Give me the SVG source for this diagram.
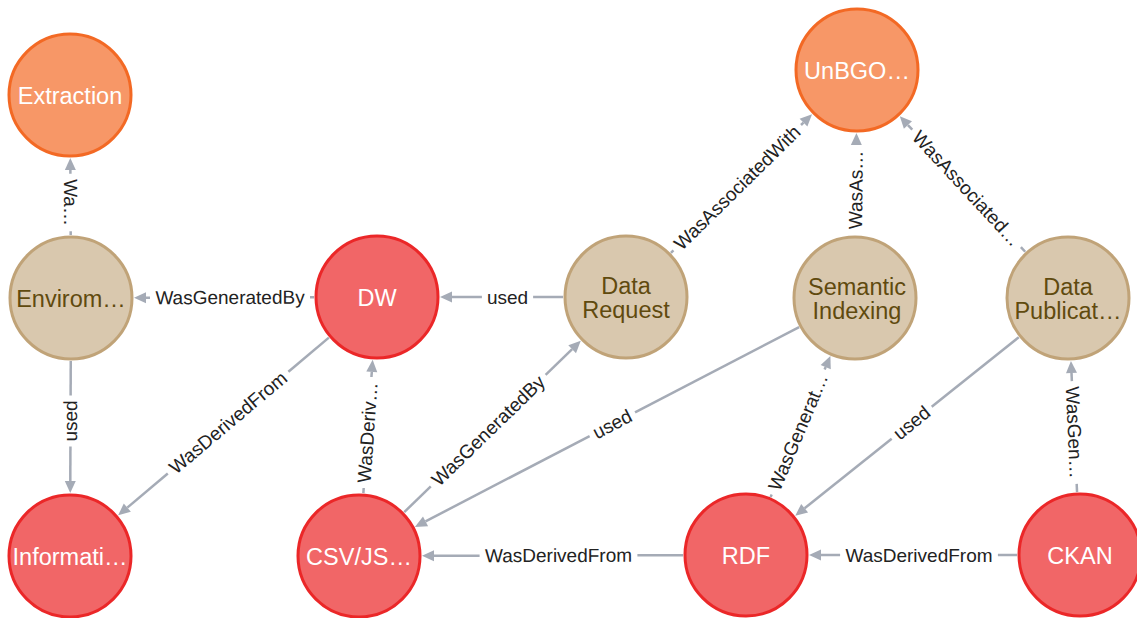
<svg xmlns="http://www.w3.org/2000/svg" width="1137" height="618" viewBox="0 0 1137 618">
  <style>
    .orange circle { fill: #F79767; stroke: #F36924; stroke-width: 3; }
    .red circle { fill: #F16667; stroke: #EB2728; stroke-width: 3; }
    .tan circle { fill: #D9C8AE; stroke: #C0A378; stroke-width: 3; }
    .node text { font-family: "Liberation Sans", Arial, sans-serif; font-size: 23.5px; text-anchor: middle; dominant-baseline: central; }
    .orange text, .red text { fill: #FFFFFF; }
    .tan text { fill: #604A0E; }
    .rel line { stroke: #A5ABB6; stroke-width: 2.5; }
    .rel path { fill: #A5ABB6; }
    .rel text { font-family: "Liberation Sans", Arial, sans-serif; font-size: 19px; fill: #222222; text-anchor: middle; dominant-baseline: central; }
  </style>
  <rect width="1137" height="618" fill="#FFFFFF"/>

  <!-- relationships: each drawn in its own frame (origin at midpoint, x along the edge) -->
  <g id="relationships">
    <!-- Envirom -> Extraction -->
    <g class="rel" transform="translate(70.5,196.5) rotate(89.7)">
      <line x1="-26.5" y1="0" x2="-22.75" y2="0"/><line x1="34.75" y1="0" x2="38.5" y2="0"/>
      <path d="M-38.5,0 L-26.5,-5.5 L-26.5,5.5 Z"/>
      <text x="6" y="0">Wa…</text>
    </g>
    <!-- DW -> Envirom -->
    <g class="rel" transform="translate(224,297.5) rotate(-0.19)">
      <line x1="-78" y1="0" x2="-74" y2="0"/><line x1="86" y1="0" x2="90" y2="0"/>
      <path d="M-90,0 L-78,-5.5 L-78,5.5 Z"/>
      <text x="6" y="0">WasGeneratedBy</text>
    </g>
    <!-- Envirom -> Informati -->
    <g class="rel" transform="translate(70.5,427) rotate(-89.78)">
      <line x1="-54" y1="0" x2="-19.6" y2="0"/><line x1="31.6" y1="0" x2="66" y2="0"/>
      <path d="M-66,0 L-54,-5.5 L-54,5.5 Z"/>
      <text x="6" y="0">used</text>
    </g>
    <!-- DW -> Informati -->
    <g class="rel" transform="translate(223.5,426.5) rotate(-40.15)">
      <line x1="-125.83" y1="0" x2="-72.9" y2="0"/><line x1="84.9" y1="0" x2="137.83" y2="0"/>
      <path d="M-137.83,0 L-125.83,-5.5 L-125.83,5.5 Z"/>
      <text x="6" y="0">WasDerivedFrom</text>
    </g>
    <!-- Data Request -> DW -->
    <g class="rel" transform="translate(501.5,297) rotate(0)">
      <line x1="-49.5" y1="0" x2="-19.6" y2="0"/><line x1="31.6" y1="0" x2="61.5" y2="0"/>
      <path d="M-61.5,0 L-49.5,-5.5 L-49.5,5.5 Z"/>
      <text x="6" y="0">used</text>
    </g>
    <!-- Data Request -> UnBGO -->
    <g class="rel" transform="translate(741.5,183.5) rotate(-44.5)">
      <line x1="-98.93" y1="0" x2="-95.45" y2="0"/><line x1="83.45" y1="0" x2="86.93" y2="0"/>
      <path d="M98.93,0 L86.93,-5.5 L86.93,5.5 Z"/>
      <text x="-6" y="0">WasAssociatedWith</text>
    </g>
    <!-- Semantic Indexing -> UnBGO -->
    <g class="rel" transform="translate(856,184) rotate(-89.5)">
      <path d="M51,0 L39,-5.5 L39,5.5 Z"/>
      <text x="-6" y="0">WasAs…</text>
    </g>
    <!-- Data Publication -> UnBGO -->
    <g class="rel" transform="translate(962.5,184) rotate(47.22)">
      <line x1="-80.33" y1="0" x2="-73.95" y2="0"/><line x1="85.95" y1="0" x2="92.33" y2="0"/>
      <path d="M-92.33,0 L-80.33,-5.5 L-80.33,5.5 Z"/>
      <text x="6" y="0">WasAssociated…</text>
    </g>
    <!-- CSV/JSON -> DW -->
    <g class="rel" transform="translate(368,426.5) rotate(-86.02)">
      <line x1="-66.81" y1="0" x2="-61.65" y2="0"/><line x1="49.65" y1="0" x2="54.81" y2="0"/>
      <path d="M66.81,0 L54.81,-5.5 L54.81,5.5 Z"/>
      <text x="-6" y="0">WasDeriv…</text>
    </g>
    <!-- CSV/JSON -> Data Request -->
    <g class="rel" transform="translate(492.5,426.5) rotate(-44.13)">
      <line x1="-122.99" y1="0" x2="-86" y2="0"/><line x1="74" y1="0" x2="110.99" y2="0"/>
      <path d="M122.99,0 L110.99,-5.5 L110.99,5.5 Z"/>
      <text x="-6" y="0">WasGeneratedBy</text>
    </g>
    <!-- Semantic Indexing -> CSV/JSON -->
    <g class="rel" transform="translate(607,427) rotate(-27.48)">
      <line x1="-204.55" y1="0" x2="-19.6" y2="0"/><line x1="31.6" y1="0" x2="216.55" y2="0"/>
      <path d="M-216.55,0 L-204.55,-5.5 L-204.55,5.5 Z"/>
      <text x="6" y="0">used</text>
    </g>
    <!-- RDF -> Semantic Indexing -->
    <g class="rel" transform="translate(800.5,426.5) rotate(-67.02)">
      <line x1="-76.58" y1="0" x2="-73.8" y2="0"/><line x1="61.8" y1="0" x2="64.58" y2="0"/>
      <path d="M76.58,0 L64.58,-5.5 L64.58,5.5 Z"/>
      <text x="-6" y="0">WasGenerat…</text>
    </g>
    <!-- Data Publication -> RDF -->
    <g class="rel" transform="translate(907,426.5) rotate(-38.6)">
      <line x1="-130.99" y1="0" x2="-19.6" y2="0"/><line x1="31.6" y1="0" x2="142.99" y2="0"/>
      <path d="M-142.99,0 L-130.99,-5.5 L-130.99,5.5 Z"/>
      <text x="6" y="0">used</text>
    </g>
    <!-- CKAN -> Data Publication -->
    <g class="rel" transform="translate(1074,426.5) rotate(87.33)">
      <line x1="-53.64" y1="0" x2="-45.45" y2="0"/><line x1="57.45" y1="0" x2="65.64" y2="0"/>
      <path d="M-65.64,0 L-53.64,-5.5 L-53.64,5.5 Z"/>
      <text x="6" y="0">WasGen…</text>
    </g>
    <!-- RDF -> CSV/JSON -->
    <g class="rel" transform="translate(552.5,555.5) rotate(-0.15)">
      <line x1="-118.5" y1="0" x2="-72.9" y2="0"/><line x1="84.9" y1="0" x2="130.5" y2="0"/>
      <path d="M-130.5,0 L-118.5,-5.5 L-118.5,5.5 Z"/>
      <text x="6" y="0">WasDerivedFrom</text>
    </g>
    <!-- CKAN -> RDF -->
    <g class="rel" transform="translate(913,555) rotate(0)">
      <line x1="-92" y1="0" x2="-72.9" y2="0"/><line x1="84.9" y1="0" x2="104" y2="0"/>
      <path d="M-104,0 L-92,-5.5 L-92,5.5 Z"/>
      <text x="6" y="0">WasDerivedFrom</text>
    </g>
  </g>

  <!-- nodes -->
  <g id="extraction" class="node orange">
    <circle cx="70" cy="95" r="61"/>
    <text x="70" y="96">Extraction</text>
  </g>
  <g id="unbgo" class="node orange">
    <circle cx="857" cy="70" r="61"/>
    <text x="857" y="71">UnBGO…</text>
  </g>
  <g id="enviroment" class="node tan">
    <circle cx="71" cy="298" r="61"/>
    <text x="71" y="299">Envirom…</text>
  </g>
  <g id="dw" class="node red">
    <circle cx="377" cy="297" r="61"/>
    <text x="377" y="298">DW</text>
  </g>
  <g id="data-request" class="node tan">
    <circle cx="626" cy="297" r="61"/>
    <text x="626" y="286">Data</text>
    <text x="626" y="310">Request</text>
  </g>
  <g id="semantic-indexing" class="node tan">
    <circle cx="855" cy="298" r="61"/>
    <text x="857" y="287">Semantic</text>
    <text x="857" y="311">Indexing</text>
  </g>
  <g id="data-publication" class="node tan">
    <circle cx="1068" cy="298" r="61"/>
    <text x="1068" y="287">Data</text>
    <text x="1068" y="311">Publicat…</text>
  </g>
  <g id="information" class="node red">
    <circle cx="70" cy="556" r="61"/>
    <text x="70" y="557">Informati…</text>
  </g>
  <g id="csv-json" class="node red">
    <circle cx="359" cy="556" r="61"/>
    <text x="359" y="557">CSV/JS…</text>
  </g>
  <g id="rdf" class="node red">
    <circle cx="746" cy="555" r="61"/>
    <text x="746" y="556">RDF</text>
  </g>
  <g id="ckan" class="node red">
    <circle cx="1080" cy="555" r="61"/>
    <text x="1080" y="556">CKAN</text>
  </g>
</svg>
